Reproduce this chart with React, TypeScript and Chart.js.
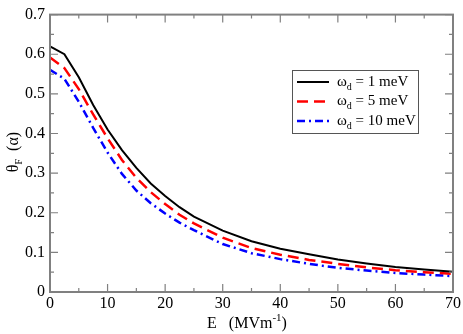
import React, { useEffect, useRef } from "react";
import { Chart, registerables } from "chart.js";

Chart.register(...registerables);

const E_VALUES = [0, 2.5, 5, 7.5, 10, 12.5, 15, 17.5, 20, 22.5, 25, 30, 35, 40, 45, 50, 55, 60, 65, 70];
const THETA_1MEV = [0.62, 0.6, 0.542, 0.472, 0.41, 0.358, 0.313, 0.274, 0.242, 0.214, 0.19, 0.155, 0.128, 0.109, 0.095, 0.082, 0.072, 0.063, 0.057, 0.051];
const THETA_5MEV = [0.592, 0.565, 0.512, 0.448, 0.388, 0.333, 0.288, 0.252, 0.222, 0.195, 0.173, 0.137, 0.111, 0.094, 0.081, 0.071, 0.062, 0.055, 0.05, 0.046];
const THETA_10MEV = [0.561, 0.538, 0.48, 0.414, 0.352, 0.298, 0.256, 0.224, 0.198, 0.175, 0.156, 0.121, 0.098, 0.083, 0.071, 0.061, 0.054, 0.048, 0.044, 0.04];
const LEGEND_VALUES = ["1", "5", "10"];
const X_TICKS = [0, 10, 20, 30, 40, 50, 60, 70];
const Y_TICKS = [0, 0.1, 0.2, 0.3, 0.4, 0.5, 0.6, 0.7];

const FONT = "'Liberation Serif', 'DejaVu Serif', serif";
const AXIS_GRAY = "#808080";

const framePlugin = {
  id: "framePlugin",
  afterDraw(chart: any) {
    const ctx = chart.ctx;
    const { left, right, top, bottom } = chart.chartArea;
    const xs = chart.scales.x;
    const ys = chart.scales.y;
    ctx.save();
    // ticks
    ctx.strokeStyle = AXIS_GRAY;
    ctx.lineWidth = 1.2;
    for (let v = 0; v <= 70; v += 5) {
      const px = xs.getPixelForValue(v);
      const len = v % 10 === 0 ? 8 : 4;
      ctx.beginPath();
      ctx.moveTo(px, bottom);
      ctx.lineTo(px, bottom - len);
      ctx.moveTo(px, top);
      ctx.lineTo(px, top + len);
      ctx.stroke();
    }
    for (let i = 0; i <= 14; i++) {
      const v = i * 0.05;
      const py = ys.getPixelForValue(v);
      const len = i % 2 === 0 ? 8 : 4;
      ctx.beginPath();
      ctx.moveTo(left, py);
      ctx.lineTo(left + len, py);
      ctx.moveTo(right, py);
      ctx.lineTo(right - len, py);
      ctx.stroke();
    }
    // frame
    ctx.lineWidth = 2;
    ctx.strokeRect(left, top, right - left, bottom - top);

    // x title
    ctx.fillStyle = "#000";
    ctx.textBaseline = "alphabetic";
    const main = "E   (MVm";
    const sup = "-1";
    const close = ")";
    ctx.font = `16px ${FONT}`;
    const w1 = ctx.measureText(main).width;
    const w3 = ctx.measureText(close).width;
    ctx.font = `11px ${FONT}`;
    const w2 = ctx.measureText(sup).width;
    const total = w1 + w2 + w3;
    const x0 = 247 - total / 2;
    const yb = 328;
    ctx.font = `16px ${FONT}`;
    ctx.textAlign = "left";
    ctx.fillText(main, x0, yb);
    ctx.font = `11px ${FONT}`;
    ctx.fillText(sup, x0 + w1, yb - 7);
    ctx.font = `16px ${FONT}`;
    ctx.fillText(close, x0 + w1 + w2, yb);

    // y title rotated
    ctx.save();
    ctx.translate(18, 152);
    ctx.rotate(-Math.PI / 2);
    const a = "\u03B8";
    const sub = "F";
    const b = "  (\u03B1)";
    ctx.font = `16px ${FONT}`;
    const wa = ctx.measureText(a).width;
    const wb = ctx.measureText(b).width;
    ctx.font = `10px ${FONT}`;
    const ws = ctx.measureText(sub).width;
    const tot = wa + ws + wb;
    const sx = -tot / 2;
    ctx.font = `16px ${FONT}`;
    ctx.fillText(a, sx, 0);
    ctx.font = `10px ${FONT}`;
    ctx.fillText(sub, sx + wa, 4);
    ctx.font = `16px ${FONT}`;
    ctx.fillText(b, sx + wa + ws, 0);
    ctx.restore();

    // legend
    const bx = 292, by = 70, bw = 126, bh = 63;
    ctx.fillStyle = "#fff";
    ctx.fillRect(bx, by, bw, bh);
    ctx.strokeStyle = "#555";
    ctx.lineWidth = 1;
    ctx.strokeRect(bx + 0.5, by + 0.5, bw, bh);
    const ds = chart.data.datasets;
    const rows = [82, 101.5, 121];
    for (let i = 0; i < ds.length; i++) {
      const d = ds[i];
      const ry = rows[i];
      ctx.strokeStyle = d.borderColor;
      ctx.lineWidth = d.borderWidth;
      ctx.setLineDash(d.borderDash || []);
      ctx.beginPath();
      ctx.moveTo(297, ry);
      ctx.lineTo(329, ry);
      ctx.stroke();
      ctx.setLineDash([]);
      ctx.fillStyle = "#000";
      ctx.font = `15px ${FONT}`;
      ctx.textBaseline = "middle";
      const om = "\u03C9";
      ctx.fillText(om, 337, ry);
      const wo = ctx.measureText(om).width;
      ctx.font = `10px ${FONT}`;
      ctx.fillText("d", 337 + wo, ry + 5);
      const wd = ctx.measureText("d").width;
      ctx.font = `15px ${FONT}`;
      ctx.fillText(" = " + LEGEND_VALUES[i] + " meV", 337 + wo + wd, ry);
    }
    ctx.restore();
  },
};

export default function App() {
  const ref = useRef<HTMLCanvasElement>(null);
  useEffect(() => {
    document.body.style.margin = "0";
    const canvas = ref.current!;
    const toPts = (arr: number[]) => E_VALUES.map((x, i) => ({ x, y: arr[i] }));
    const chart = new Chart(canvas, {
      type: "line",
      data: {
        datasets: [
          { label: "1 meV", data: toPts(THETA_1MEV), borderColor: "#000000", borderWidth: 2, pointRadius: 0, tension: 0, fill: false },
          { label: "5 meV", data: toPts(THETA_5MEV), borderColor: "#ff0000", borderWidth: 2.5, borderDash: [11, 6], pointRadius: 0, tension: 0, fill: false },
          { label: "10 meV", data: toPts(THETA_10MEV), borderColor: "#0000ff", borderWidth: 2.5, borderDash: [8, 4, 2, 4], pointRadius: 0, tension: 0, fill: false },
        ],
      },
      options: {
        responsive: false,
        animation: false,
        layout: { padding: { left: 0, right: 10, top: 10, bottom: 0 } },
        plugins: { legend: { display: false }, tooltip: { enabled: false } },
        scales: {
          x: {
            type: "linear",
            min: 0,
            max: 70,
            afterFit: (s: any) => { s.height = 42; },
            afterBuildTicks: (s: any) => { s.ticks = X_TICKS.map((v) => ({ value: v })); },
            grid: { display: false, drawTicks: false },
            border: { display: false },
            ticks: { color: "#000", padding: 2, font: { family: FONT, size: 16 }, maxRotation: 0 },
          },
          y: {
            type: "linear",
            min: 0,
            max: 0.7,
            afterFit: (s: any) => { s.width = 50; },
            afterBuildTicks: (s: any) => { s.ticks = Y_TICKS.map((v) => ({ value: v })); },
            grid: { display: false, drawTicks: false },
            border: { display: false },
            ticks: {
              color: "#000",
              padding: 5,
              font: { family: FONT, size: 16 },
              callback: (v: any) => (v === 0 ? "0" : Number(v).toFixed(1)),
            },
          },
        },
      },
      plugins: [framePlugin],
    });
    return () => chart.destroy();
  }, []);
  return (
    <div style={{ width: 463, height: 334 }}>
      <canvas ref={ref} width={463} height={334} style={{ display: "block" }} />
    </div>
  );
}
